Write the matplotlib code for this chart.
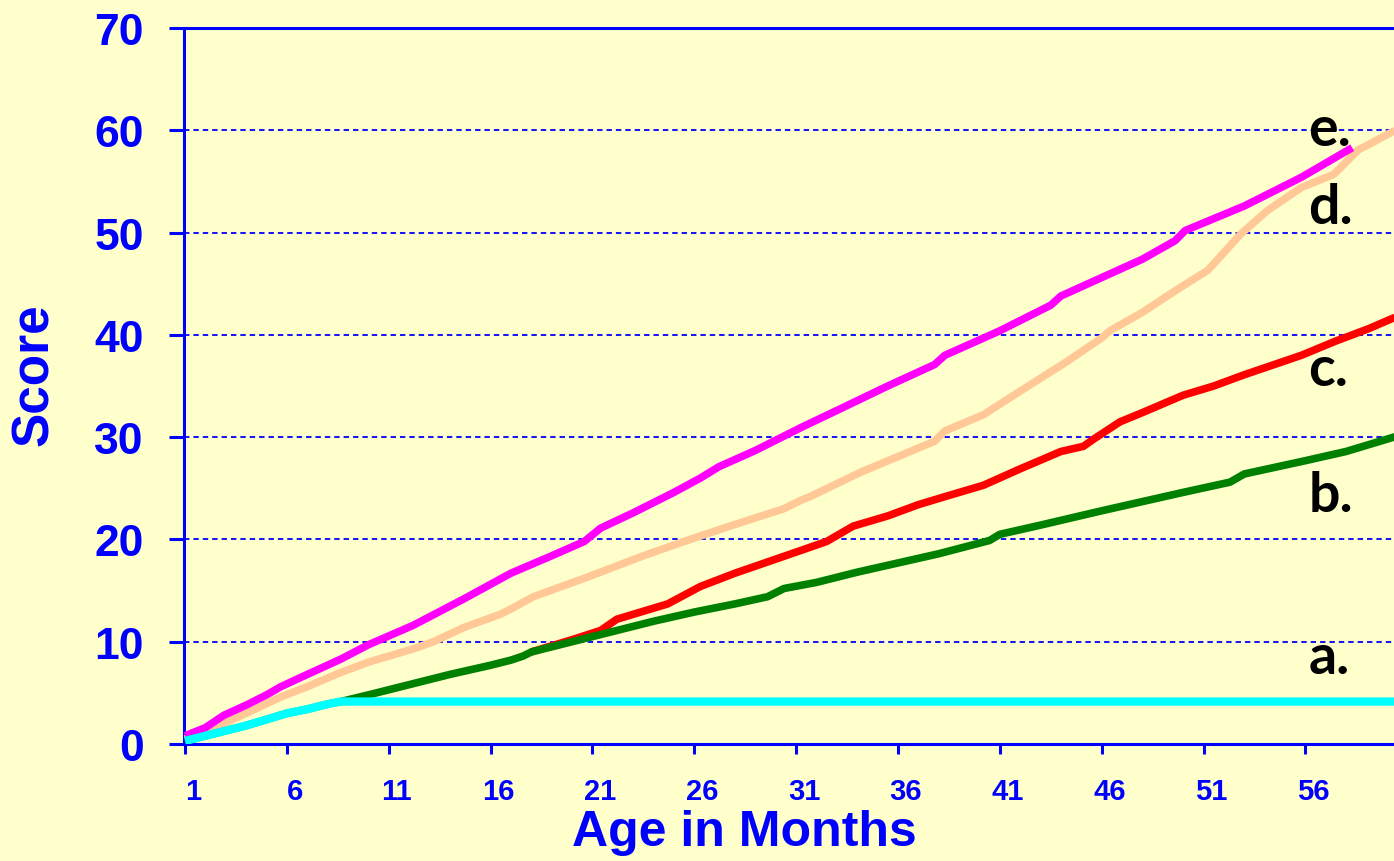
import matplotlib.pyplot as plt
from matplotlib.transforms import ScaledTranslation

# score curves (age in months, score)
a_months = [1, 2, 3, 4, 5, 6, 7, 8, 8.65, 60.5]
a_scores = [0.3, 0.8, 1.3, 1.8, 2.4, 3.0, 3.4, 3.9, 4.15, 4.15]

b_months = [1, 2, 3, 4, 5, 6, 7, 8, 8.65, 10, 12, 14, 16, 17, 17.6, 18, 20, 22, 24, 26,
            28, 29.6, 30.4, 32, 34, 36, 38, 40.5, 41, 43, 46, 48, 50, 52.3, 53, 56, 58, 60.5]
b_scores = [0.3, 0.8, 1.3, 1.8, 2.4, 3.0, 3.4, 3.9, 4.15, 4.8, 5.8, 6.8, 7.7, 8.2, 8.6, 9.0, 10.0, 11.0, 12.0, 12.9,
            13.7, 14.4, 15.2, 15.8, 16.8, 17.7, 18.6, 19.9, 20.5, 21.4, 22.8, 23.7, 24.6, 25.6, 26.4, 27.7, 28.6, 30.1]

c_months = [18, 20, 21.4, 22.2, 24.7, 26.3, 28, 29.6, 31.2, 32.5, 33.8, 35.5, 37, 38.5, 40.2, 42, 44,
            45.1, 45.6, 46.9, 48, 50, 51.5, 53, 55.8, 57.5, 59.1, 60.5]
c_scores = [9.0, 10.2, 11.1, 12.2, 13.7, 15.4, 16.7, 17.8, 18.9, 19.8, 21.3, 22.3, 23.4, 24.3, 25.3, 26.9, 28.6,
            29.1, 29.8, 31.5, 32.4, 34.1, 35.0, 36.1, 38.0, 39.4, 40.6, 41.8]

d_months = [1, 2, 2.9, 4, 5.7, 7, 8.65, 10, 12.2, 13.2, 14.7, 16.5, 17, 18.1, 20.6, 23.5, 25.5, 27.9, 30.4,
            31.2, 31.7, 34.2, 37.8, 38.3, 40.2, 42, 44.3, 46, 46.4, 48, 49.6, 51.2, 52.8, 54.1, 55.8,
            57.4, 58.6, 59.1, 60.5]
d_scores = [0.5, 1.3, 2.0, 3.0, 4.6, 5.6, 7.0, 8.0, 9.3, 10.0, 11.4, 12.7, 13.2, 14.4, 16.2, 18.4, 19.8, 21.4, 23.0,
            23.8, 24.2, 26.6, 29.6, 30.6, 32.2, 34.5, 37.4, 39.7, 40.4, 42.2, 44.3, 46.3, 49.8, 52.1, 54.4,
            55.7, 58.1, 58.6, 60.1]

e_months = [1, 2, 2.9, 4, 5, 5.7, 7, 8.65, 10, 12.2, 14.7, 17, 19, 20.6, 21.4, 23, 25, 26.3, 27.2, 29,
            31.2, 33.2, 35.5, 37.8, 38.3, 41, 43.5, 44, 46, 48, 49.6, 50.1, 53, 55.8, 58.3]
e_scores = [0.8, 1.6, 2.8, 3.8, 4.8, 5.6, 6.8, 8.3, 9.7, 11.6, 14.2, 16.7, 18.4, 19.8, 21.1, 22.6, 24.6, 26.0, 27.1, 28.7,
            30.9, 32.8, 35.0, 37.1, 38.0, 40.4, 42.9, 43.8, 45.6, 47.4, 49.2, 50.2, 52.6, 55.4, 58.3]

x_ticks = list(range(1, 57, 5))
y_ticks = list(range(0, 71, 10))

labels = ["a.", "b.", "c.", "d.", "e."]
label_y = [6.9, 22.8, 35.1, 50.9, 58.6]

bg = "#FFFFCC"
blue = "#0000FF"

fig = plt.figure(figsize=(13.94, 8.62), dpi=100, facecolor=bg)
ax = fig.add_axes([184 / 1394, 1 - 745 / 862, 1210 / 1394, 716 / 862])
ax.set_facecolor(bg)

ax.plot(d_months, d_scores, color="#FFC896", lw=5.5, solid_capstyle="butt", zorder=3)
ax.plot(e_months, e_scores, color="#FF00FF", lw=5.5, solid_capstyle="butt", zorder=4)
ax.plot(c_months, c_scores, color="#FF0000", lw=5.5, solid_capstyle="butt", zorder=5)
ax.plot(b_months, b_scores, color="#008000", lw=5.5, solid_capstyle="butt", zorder=6)
ax.plot(a_months, a_scores, color="#00FFFF", lw=6, solid_capstyle="butt", zorder=7)

for txt, yv in zip(labels, label_y):
    ax.text(56.15, yv, txt, fontsize=40, fontweight="bold", family=["Lato", "DejaVu Sans"],
            color="black", ha="left", va="baseline", zorder=8)

ax.set_xlim(0.95, 60.35)
ax.set_ylim(0, 70)
ax.set_xticks(x_ticks)
ax.set_yticks(y_ticks)

for y in y_ticks[1:-1]:
    ax.axhline(y, color=blue, lw=1.3, ls=(0, (3, 2.2)), zorder=1)

for side in ["left", "bottom", "top"]:
    ax.spines[side].set_color(blue)
    ax.spines[side].set_linewidth(2.2)
ax.spines["right"].set_visible(False)

ax.tick_params(axis="y", direction="out", length=11, width=2.2, color=blue, pad=18,
               labelsize=32, labelcolor=blue)
ax.tick_params(axis="x", direction="out", length=7, width=2.2, color=blue, pad=17,
               labelsize=21, labelcolor=blue)
for lab in ax.get_yticklabels() + ax.get_xticklabels():
    lab.set_fontfamily("Liberation Sans")
    lab.set_fontweight("bold")
for lab in ax.get_xticklabels():
    lab.set_transform(lab.get_transform() + ScaledTranslation(0.08, 0, fig.dpi_scale_trans))

fig.text(744 / 1394, 1 - 833 / 862, "Age in Months", fontsize=36, fontweight="bold",
         family="Liberation Sans", color=blue, ha="center", va="center")
fig.text(35 / 1394, 1 - 375 / 862, "Score", fontsize=37, fontweight="bold", rotation=90,
         family="Liberation Sans", color=blue, ha="center", va="center")

fig.savefig("out.png", dpi=100, facecolor=bg)
